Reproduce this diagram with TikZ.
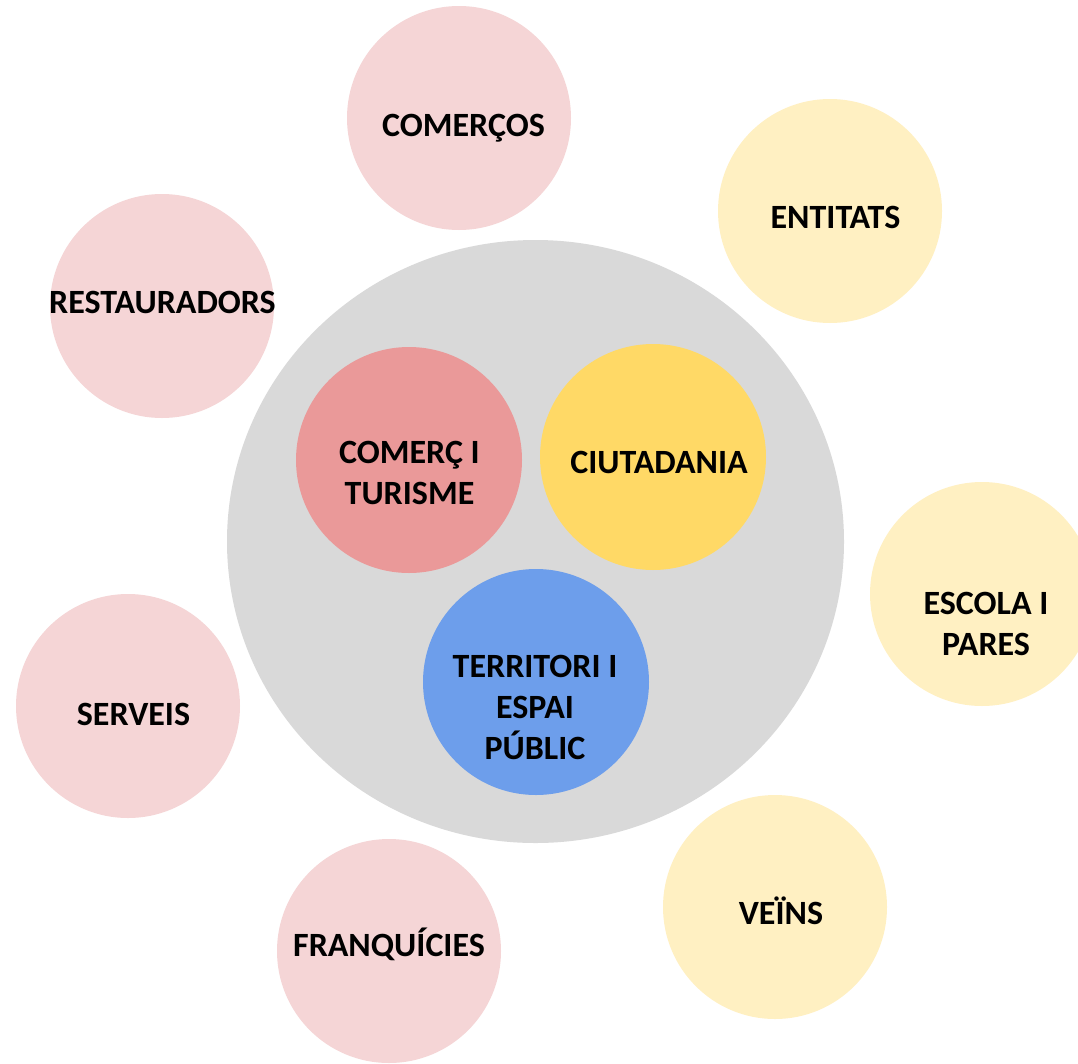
\documentclass[tikz,border=0pt]{standalone}
\usepackage{fontspec}
\setmainfont{Carlito}
\usetikzlibrary{shapes.geometric}
\definecolor{pinkl}{HTML}{F5D5D6}
\definecolor{yell}{HTML}{FFF0C2}
\definecolor{greyc}{HTML}{D9D9D9}
\definecolor{redc}{HTML}{EA9999}
\definecolor{goldc}{HTML}{FFD966}
\definecolor{bluec}{HTML}{6D9EEB}
\tikzset{
  bubble/.style={circle, draw=none, inner sep=0pt, minimum size=224pt},
  inner/.style={circle, draw=none, inner sep=0pt, minimum size=226pt},
  lab/.style={font=\fontsize{34}{41}\selectfont\bfseries, inner sep=0pt, text height=21.5pt, text depth=0pt, anchor=center},
  mlab/.style={font=\fontsize{34}{41}\selectfont\bfseries, inner sep=0pt, align=center, anchor=north}
}
\begin{document}
\begin{tikzpicture}[x=1pt, y=-1pt]
\useasboundingbox (0,0) rectangle (1078,1063);
\clip (0,0) rectangle (1078,1063);
\fill[white] (0,0) rectangle (1078,1063);
% central grey ellipse
\node[ellipse, fill=greyc, draw=none, inner sep=0pt, minimum width=617pt, minimum height=603pt] (core) at (535.5,541.5) {};
% inner circles
\node[inner, fill=redc] (comerc) at (409,460) {};
\node[inner, fill=goldc] (ciut) at (653,457) {};
\node[inner, fill=bluec] (terr) at (536,682) {};
% outer circles
\node[bubble, fill=pinkl] (comercos) at (459,118) {};
\node[bubble, fill=yell] (entitats) at (830,211) {};
\node[bubble, fill=pinkl] (rest) at (162,306) {};
\node[bubble, fill=yell] (escola) at (982,594) {};
\node[bubble, fill=pinkl] (serveis) at (128,706) {};
\node[bubble, fill=pinkl] (franq) at (389,951) {};
\node[bubble, fill=yell] (veins) at (775,907) {};
% labels
\node[mlab] (tcomerc) at (409.5,440.5) {COMERÇ I\\TURISME};
\node[lab] (tciut) at (659,463) {CIUTADANIA};
\node[mlab] (tterr) at (535,655) {TERRITORI I\\ESPAI\\PÚBLIC};
\node[lab] (tcomercos) at (463.5,126) {COMERÇOS};
\node[lab] (tentitats) at (835.5,218) {ENTITATS};
\node[lab] (trest) at (162.5,303) {RESTAURADORS};
\node[mlab] (tescola) at (986,591.5) {ESCOLA I\\PARES};
\node[lab] (tserveis) at (133.5,715) {SERVEIS};
\node[lab] (tfranq) at (389,945.5) {FRANQUÍCIES};
\node[lab] (tveins) at (781,914) {VEÏNS};
\end{tikzpicture}
\end{document}
